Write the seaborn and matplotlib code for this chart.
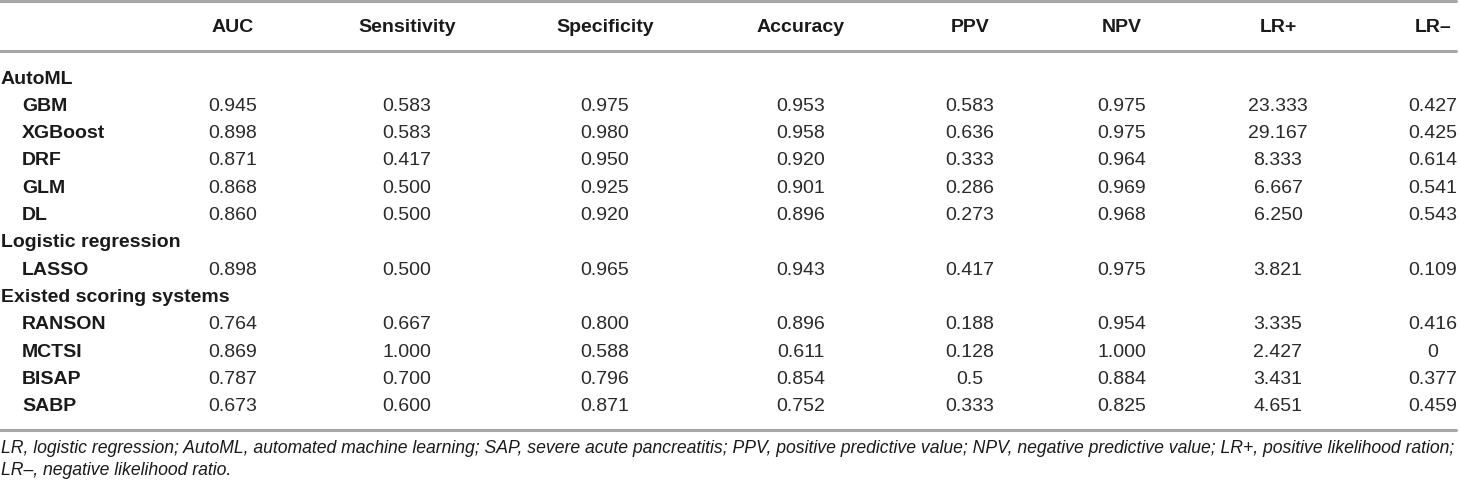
import seaborn as sns
import matplotlib.pyplot as plt
import pandas as pd

# table content
columns = ["AUC", "Sensitivity", "Specificity", "Accuracy", "PPV", "NPV", "LR+", "LR\u2013"]
groups = ["AutoML", "Logistic regression", "Existed scoring systems"]
group_models = [
    ["GBM", "XGBoost", "DRF", "GLM", "DL"],
    ["LASSO"],
    ["RANSON", "MCTSI", "BISAP", "SABP"],
]
auc = ["0.945", "0.898", "0.871", "0.868", "0.860", "0.898", "0.764", "0.869", "0.787", "0.673"]
sensitivity = ["0.583", "0.583", "0.417", "0.500", "0.500", "0.500", "0.667", "1.000", "0.700", "0.600"]
specificity = ["0.975", "0.980", "0.950", "0.925", "0.920", "0.965", "0.800", "0.588", "0.796", "0.871"]
accuracy = ["0.953", "0.958", "0.920", "0.901", "0.896", "0.943", "0.896", "0.611", "0.854", "0.752"]
ppv = ["0.583", "0.636", "0.333", "0.286", "0.273", "0.417", "0.188", "0.128", "0.5", "0.333"]
npv = ["0.975", "0.975", "0.964", "0.969", "0.968", "0.975", "0.954", "1.000", "0.884", "0.825"]
lr_pos = ["23.333", "29.167", "8.333", "6.667", "6.250", "3.821", "3.335", "2.427", "3.431", "4.651"]
lr_neg = ["0.427", "0.425", "0.614", "0.541", "0.543", "0.109", "0.416", "0", "0.377", "0.459"]
footnote_lines = [
    "LR, logistic regression; AutoML, automated machine learning; SAP, severe acute pancreatitis; "
    "PPV, positive predictive value; NPV, negative predictive value; LR+, positive likelihood ration;",
    "LR\u2013, negative likelihood ratio.",
]

values = pd.DataFrame(dict(zip(columns, [auc, sensitivity, specificity, accuracy,
                                         ppv, npv, lr_pos, lr_neg])))

sns.set_theme(style="white")
plt.rcParams['font.family'] = ['Liberation Sans', 'DejaVu Sans']

fig = plt.figure(figsize=(14.6, 4.86), dpi=100)
ax = fig.add_axes([0, 0, 1, 1])

col_x = [233, 407, 605, 801, 970, 1122, 1278, 1433]
line_color = "#a6a6a6"
fs = 14

# rules
rules = pd.DataFrame({"x": [0, 1456, 0, 1456, 0, 1456],
                      "y": [1.5, 1.5, 51, 51, 430, 430],
                      "rule": ["top", "top", "head", "head", "bottom", "bottom"]})
sns.lineplot(data=rules, x="x", y="y", units="rule", estimator=None,
             color=line_color, linewidth=2.2, ax=ax, legend=False)
ax.set_xlim(0, 1460)
ax.set_ylim(486, 0)
ax.axis("off")

# header
for x, name in zip(col_x, columns):
    ax.text(x, 27, name, ha="center", va="center", fontsize=fs,
            fontweight="bold", color="#1a1a1a")

# body
row_y0 = 79
row_h = 27.3
r = 0
k = 0
for g, models in zip(groups, group_models):
    ax.text(1, row_y0 + r * row_h, g, ha="left", va="center", fontsize=fs,
            fontweight="bold", color="#1a1a1a")
    r += 1
    for m in models:
        y = row_y0 + r * row_h
        ax.text(22, y, m, ha="left", va="center", fontsize=fs,
                fontweight="bold", color="#1a1a1a")
        for x, c in zip(col_x, columns):
            ax.text(x, y, values[c][k], ha="center", va="center",
                    fontsize=fs, color="#2a2a2a")
        r += 1
        k += 1

for i, line in enumerate(footnote_lines):
    ax.text(1, 448 + i * 22, line, ha="left", va="center", fontsize=12.68,
            style="italic", color="#1a1a1a")

fig.savefig("out.png", dpi=100)
